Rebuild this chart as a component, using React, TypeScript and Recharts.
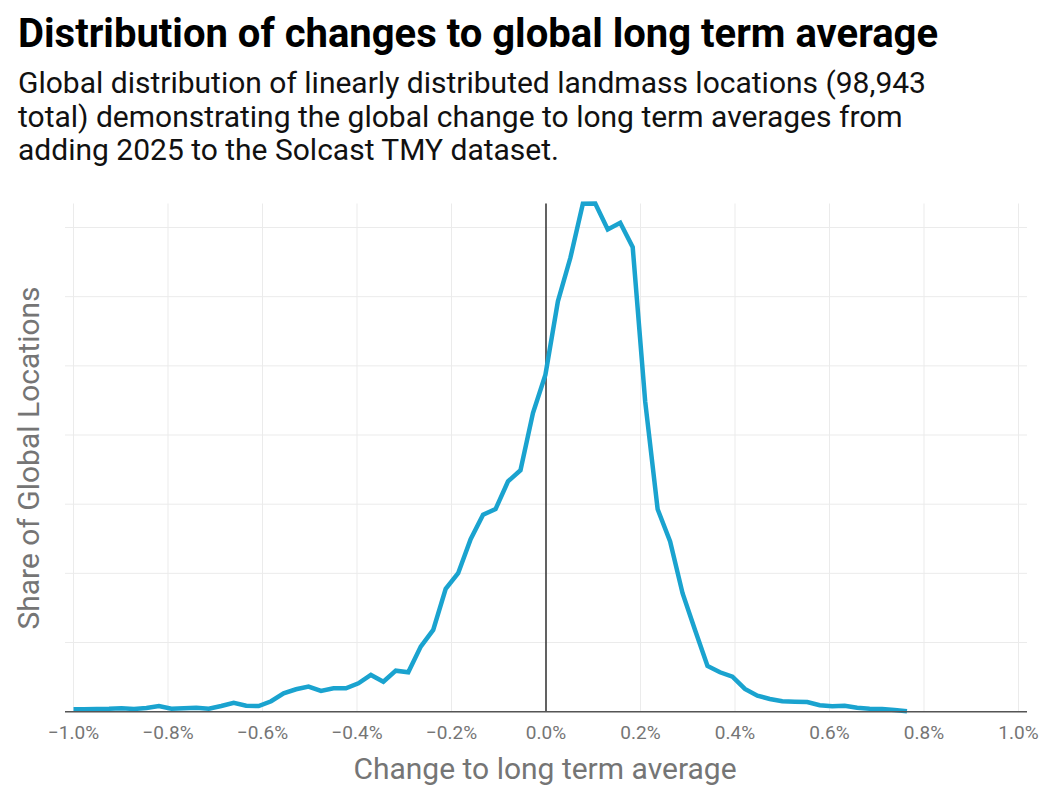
import { LineChart, Line, XAxis, YAxis, CartesianGrid, ReferenceLine } from "recharts"

// bin centres, % change to long term average
const CHANGE_PCT = [
  -1.0, -0.9776, -0.9512, -0.9248, -0.8984, -0.872, -0.8456, -0.8192, -0.7928, -0.7664,
  -0.7401, -0.7137, -0.6873, -0.6609, -0.6345, -0.6081, -0.5817, -0.5553, -0.529, -0.5026,
  -0.4762, -0.4498, -0.4234, -0.397, -0.3706, -0.3442, -0.3179, -0.2915, -0.2651, -0.2387,
  -0.2123, -0.1859, -0.1595, -0.1332, -0.1068, -0.0804, -0.054, -0.0276, -0.0012, 0.0252,
  0.0516, 0.078, 0.1043, 0.1307, 0.1571, 0.1835, 0.2099, 0.2363, 0.2627, 0.289,
  0.3154, 0.3418, 0.3682, 0.3946, 0.421, 0.4474, 0.4737, 0.5001, 0.5265, 0.5529,
  0.5793, 0.6057, 0.6321, 0.6585, 0.6848, 0.7112, 0.7376, 0.764,
]

// share of global locations in each bin (%)
const SHARE_PCT = [
  0.035, 0.036, 0.039, 0.042, 0.049, 0.039, 0.054, 0.082, 0.043, 0.051,
  0.058, 0.043, 0.082, 0.13, 0.087, 0.082, 0.151, 0.266, 0.324, 0.362,
  0.3, 0.339, 0.339, 0.411, 0.531, 0.434, 0.593, 0.57, 0.941, 1.182,
  1.776, 2.003, 2.495, 2.847, 2.929, 3.329, 3.491, 4.318, 4.873, 5.933,
  6.562, 7.343, 7.347, 6.971, 7.068, 6.715, 4.486, 2.926, 2.46, 1.713,
  1.182, 0.661, 0.57, 0.507, 0.329, 0.232, 0.184, 0.151, 0.145, 0.14,
  0.093, 0.078, 0.087, 0.058, 0.043, 0.039, 0.025, 0.006,
]

const X_TICKS = [-1.0, -0.8, -0.6, -0.4, -0.2, 0, 0.2, 0.4, 0.6, 0.8, 1.0]
const Y_TICKS = [0, 1, 2, 3, 4, 5, 6, 7]

const data = CHANGE_PCT.map((x, i) => ({ x, share: SHARE_PCT[i] }))

const fmtPct = (v: number) => {
  const s = Math.abs(v).toFixed(1) + "%"
  return v < -1e-9 ? "\u2212" + s : s
}

export default function App() {
  return (
    <div
      style={{
        position: "absolute",
        left: 0,
        top: 0,
        width: 1052,
        height: 803,
        background: "#fff",
        fontFamily: "Roboto, sans-serif",
      }}
    >
      <div
        style={{
          position: "absolute",
          left: 18,
          top: 14,
          fontSize: 40,
          lineHeight: "40px",
          fontWeight: 700,
          color: "#000",
          whiteSpace: "nowrap",
        }}
      >
        Distribution of changes to global long term average
      </div>
      <div
        style={{
          position: "absolute",
          left: 18,
          top: 66,
          fontSize: 30,
          lineHeight: "33.5px",
          color: "#111",
          whiteSpace: "nowrap",
        }}
      >
        Global distribution of linearly distributed landmass locations (98,943
        <br />
        total) demonstrating the global change to long term averages from
        <br />
        adding 2025 to the Solcast TMY dataset.
      </div>

      <div style={{ position: "absolute", left: 0, top: 0 }}>
        <LineChart
          width={1052}
          height={803}
          data={data}
          margin={{ top: 203.5, right: 25, bottom: 61.3, left: 65 }}
        >
          <CartesianGrid
            stroke="#ebebeb"
            strokeWidth={1}
            horizontalValues={Y_TICKS}
            verticalValues={X_TICKS}
          />
          <XAxis
            dataKey="x"
            type="number"
            domain={[-1.018, 1.018]}
            ticks={X_TICKS}
            tickFormatter={fmtPct}
            height={30}
            tickLine={false}
            tickMargin={8}
            axisLine={{ stroke: "#555", strokeWidth: 1.5 }}
            tick={{ fill: "#757575", fontSize: 19 }}
          />
          <YAxis
            type="number"
            domain={[0, "dataMax"]}
            ticks={Y_TICKS}
            width={0}
            tickFormatter={() => ""}
            tickLine={false}
            axisLine={false}
          />
          <ReferenceLine x={0} stroke="#000" strokeWidth={1.2} />
          <Line
            type="linear"
            dataKey="share"
            stroke="#1aa3cf"
            strokeWidth={4.5}
            dot={false}
            activeDot={false}
            isAnimationActive={false}
          />
        </LineChart>
      </div>

      <div
        style={{
          position: "absolute",
          left: 0,
          width: 1090,
          top: 752,
          textAlign: "center",
          fontSize: 30,
          lineHeight: "34px",
          color: "#757575",
          whiteSpace: "nowrap",
        }}
      >
        Change to long term average
      </div>
      <div
        style={{
          position: "absolute",
          left: 29,
          top: 458,
          fontSize: 30,
          lineHeight: "34px",
          color: "#757575",
          whiteSpace: "nowrap",
          transform: "translate(-50%, -50%) rotate(-90deg)",
        }}
      >
        Share of Global Locations
      </div>
    </div>
  )
}
